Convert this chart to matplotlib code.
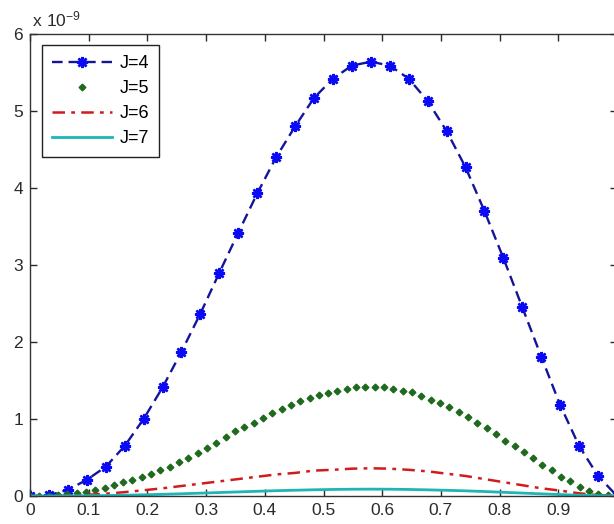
import numpy as np
import matplotlib
matplotlib.use("Agg")
import matplotlib.pyplot as plt
from matplotlib.ticker import FuncFormatter

plt.rcParams['font.family'] = ['Liberation Sans', 'DejaVu Sans']

# J=4: 32 samples on [0,1]  (values in units of 1e-9)
x4 = np.linspace(0, 1, 32)
j4 = [0.0, 0.01, 0.08, 0.21, 0.38, 0.65, 1.0, 1.41, 1.875, 2.37, 2.9, 3.42,
      3.93, 4.40, 4.80, 5.17, 5.42, 5.59, 5.64, 5.59, 5.42, 5.13, 4.74, 4.27,
      3.70, 3.09, 2.45, 1.81, 1.18, 0.65, 0.26, 0.0]

# J=5: 64 samples on [0,1]
x5 = np.linspace(0, 1, 64)
j5 = [0.0, 0.002, 0.005, 0.012, 0.022, 0.035, 0.05, 0.075, 0.10, 0.14,
      0.18, 0.21, 0.25, 0.29, 0.34, 0.38, 0.44, 0.49, 0.56, 0.62,
      0.69, 0.76, 0.84, 0.89, 0.95, 1.01, 1.08, 1.13, 1.18, 1.24,
      1.27, 1.31, 1.34, 1.37, 1.39, 1.41, 1.41, 1.42, 1.41, 1.39,
      1.37, 1.35, 1.30, 1.25, 1.21, 1.15, 1.09, 1.02, 0.95, 0.88,
      0.81, 0.72, 0.65, 0.57, 0.49, 0.40, 0.34, 0.25, 0.20, 0.12,
      0.07, 0.03, 0.01, 0.0]

# J=6 and J=7: 32 samples on [0,1]
x6 = np.linspace(0, 1, 32)
j6 = [0.0, 0.0, 0.005, 0.015, 0.03, 0.05, 0.075, 0.10, 0.13, 0.16, 0.19,
      0.22, 0.25, 0.28, 0.30, 0.33, 0.34, 0.355, 0.36, 0.355, 0.34, 0.32,
      0.29, 0.26, 0.22, 0.18, 0.14, 0.10, 0.07, 0.035, 0.01, 0.0]
j7 = [0.0, 0.0, 0.001, 0.003, 0.006, 0.01, 0.016, 0.022, 0.029, 0.037, 0.045,
      0.053, 0.061, 0.069, 0.075, 0.081, 0.085, 0.088, 0.089, 0.088, 0.085,
      0.08, 0.074, 0.067, 0.058, 0.048, 0.038, 0.028, 0.019, 0.01, 0.004, 0.0]

labels = ['J=4', 'J=5', 'J=6', 'J=7']
xticks = [0, 0.1, 0.2, 0.3, 0.4, 0.5, 0.6, 0.7, 0.8, 0.9, 1.0]
yticks = [0, 1, 2, 3, 4, 5, 6]
scale = 1e-9

fig = plt.figure(figsize=(6.14, 5.24), dpi=100)
W, H = 614, 524
ax = fig.add_axes([30 / W, (H - 496) / H, 587 / W, (496 - 34) / H])

ax.plot(x4, np.array(j4) * scale, color='#14149a', lw=1.7, dashes=(4.5, 2.5),
        marker=(8, 2, 0), ms=8, mew=1.8, mec='#0a0af5', mfc='#0a0af5',
        label=labels[0])
ax.plot(x5, np.array(j5) * scale, ls='none', marker='D', ms=3.4,
        color='#1f6a1f', label=labels[1])
ax.plot(x6, np.array(j6) * scale, color='#d01c1c', lw=1.8,
        dashes=(5, 2.5, 1.5, 2.5), label=labels[2])
ax.plot(x6, np.array(j7) * scale, color='#1fb5b5', lw=2.0, label=labels[3])

ax.set_xlim(0, 1)
ax.set_ylim(0, 6 * scale)
ax.set_xticks(xticks)
ax.set_xticklabels([('%g' % t) if t < 1 else '' for t in xticks])
ax.set_yticks([t * scale for t in yticks])
ax.yaxis.set_major_formatter(FuncFormatter(lambda v, p: '%g' % round(v / scale, 6)))
ax.tick_params(direction='in', length=5, width=1, top=True, right=True,
               labelsize=12.5, colors='#2a2a2a', pad=5)
for s in ax.spines.values():
    s.set_color('#333333')
    s.set_linewidth(1.0)

fig.text(32 / W, (H - 19) / H, r'$\mathregular{x\ 10^{-9}}$', fontsize=12.5,
         color='#2a2a2a', va='center', ha='left')

leg = ax.legend(loc='upper left', bbox_to_anchor=(12 / 587, (496 - 45) / 462),
                borderaxespad=0, fontsize=13, numpoints=1, handlelength=3.3,
                handletextpad=0.45, labelspacing=0.45, borderpad=0.55,
                fancybox=False, framealpha=1, edgecolor='#222222')
leg.get_frame().set_linewidth(1.0)

fig.savefig('out.png', dpi=100)
